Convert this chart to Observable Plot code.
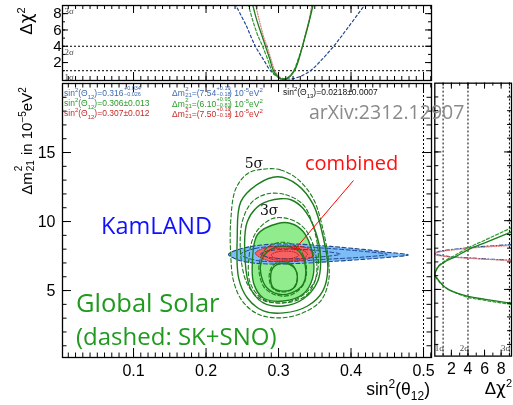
<!DOCTYPE html>
<html><head><meta charset="utf-8">
<script src="https://cdn.jsdelivr.net/npm/d3@7"></script>
<script src="https://cdn.jsdelivr.net/npm/@observablehq/plot@0.6"></script>
<style>
body{margin:0;background:#fff}
#wrap{position:relative;width:513px;height:405px;overflow:hidden;background:#fff;font-family:"Liberation Sans",Arial,sans-serif}
#wrap svg{position:absolute;left:0;top:0}
.t{position:absolute;white-space:nowrap;line-height:1}
.info{font-size:8.5px}
.info sup,.info sub{font-size:6px;line-height:0}
.pm{display:inline-block;position:relative;height:8px;vertical-align:baseline}
.pm i{position:absolute;left:0.5px;font-style:normal;font-size:5.5px;line-height:1}
.pm .u{top:-2px}.pm .d{top:3.5px}
.stk{display:inline-block;position:relative;height:15px;vertical-align:baseline}
.stk i{position:absolute;left:1px;font-style:normal;font-size:10px;line-height:1}
.stk .u{top:-3px}.stk .d{top:9px}
.big{font-family:"Open Sans",sans-serif;line-height:0.8}
.rot{transform:translate(-50%,-50%) rotate(-90deg)}
.chi{font-family:"DejaVu Sans",sans-serif}
</style></head><body><div id="wrap"></div>
<script>
// ---------- data ----------
const xTickLabels = [0.1, 0.2, 0.3, 0.4, 0.5];
const yTickLabels = [5, 10, 15];
const chiTickLabels = [2, 4, 6, 8];
const sigmaNames = ["1σ", "2σ", "3σ"];
const sigmaChi = [1, 4, 9];

// Global Solar 2D contours (sin^2 theta12, dm2_21 in 1e-5 eV^2)
const gs1 = [[0.307,6.98],[0.321,6.69],[0.326,5.90],[0.321,5.18],[0.307,4.96],[0.293,5.18],[0.289,5.90],[0.293,6.69]];
const gs2 = [[0.307,8.20],[0.328,7.84],[0.337,6.76],[0.334,5.47],[0.317,4.82],[0.299,4.75],[0.282,5.32],[0.275,6.76],[0.285,7.84]];
const gs3 = [[0.299,9.86],[0.317,9.86],[0.334,9.28],[0.347,7.63],[0.347,5.90],[0.334,4.75],[0.307,4.24],[0.279,4.46],[0.266,5.47],[0.264,7.12],[0.271,9.06]];
const gs4 = [[0.303,11.65],[0.317,11.58],[0.334,10.94],[0.351,9.28],[0.358,7.34],[0.354,5.68],[0.334,4.39],[0.307,3.88],[0.279,4.10],[0.261,5.18],[0.254,7.12],[0.257,10.00],[0.275,11.22]];
const gs5 = [[0.299,13.24],[0.326,12.66],[0.348,11.22],[0.362,8.78],[0.368,6.62],[0.361,4.96],[0.340,3.88],[0.307,3.38],[0.279,3.53],[0.257,4.46],[0.245,5.90],[0.243,8.78],[0.248,11.44],[0.272,12.73]];
// SK+SNO (dashed)
const sk1 = [[0.306,7.10],[0.320,6.80],[0.326,6.00],[0.320,5.15],[0.306,4.90],[0.292,5.15],[0.287,6.00],[0.292,6.80]];
const sk2 = [[0.305,8.50],[0.327,8.10],[0.338,6.90],[0.335,5.50],[0.318,4.70],[0.298,4.65],[0.280,5.25],[0.273,6.80],[0.283,8.05]];
const sk3 = [[0.292,10.22],[0.317,10.14],[0.337,9.42],[0.351,7.70],[0.351,5.83],[0.337,4.60],[0.307,4.10],[0.278,4.39],[0.261,5.54],[0.259,7.27],[0.268,9.14]];
const sk4 = [[0.285,12.01],[0.310,11.94],[0.334,11.22],[0.348,9.64],[0.355,7.48],[0.350,5.68],[0.330,4.53],[0.303,4.10],[0.275,4.39],[0.257,5.47],[0.248,7.48],[0.250,10.00],[0.264,11.44]];
const sk5 = [[0.282,13.81],[0.303,13.74],[0.326,13.09],[0.348,11.65],[0.362,9.28],[0.369,7.12],[0.369,5.68],[0.358,4.24],[0.330,3.31],[0.299,3.02],[0.271,3.31],[0.250,4.24],[0.238,5.68],[0.234,7.63],[0.234,10.00],[0.241,12.37],[0.258,13.50]];
// KamLAND
const kam1 = [[0.275,7.64],[0.290,7.90],[0.320,8.00],[0.355,7.88],[0.385,7.64],[0.355,7.42],[0.320,7.30],[0.290,7.38]];
const kam2 = [[0.248,7.62],[0.268,8.05],[0.305,8.20],[0.360,8.08],[0.415,7.85],[0.450,7.62],[0.415,7.42],[0.360,7.25],[0.305,7.08],[0.268,7.20]];
const kam3 = [[0.231,7.62],[0.245,7.98],[0.265,8.22],[0.290,8.36],[0.326,8.36],[0.372,8.20],[0.417,7.98],[0.450,7.78],[0.479,7.58],[0.450,7.40],[0.417,7.26],[0.372,7.10],[0.326,6.96],[0.290,6.92],[0.265,7.00],[0.245,7.20]];
// combined
const comb1 = [[0.290,7.58],[0.298,7.80],[0.310,7.86],[0.322,7.78],[0.328,7.55],[0.320,7.35],[0.305,7.30],[0.293,7.40]];
const comb2 = [[0.278,7.65],[0.290,7.98],[0.310,8.06],[0.332,7.95],[0.340,7.62],[0.332,7.30],[0.310,7.20],[0.290,7.28]];
const comb3 = [[0.268,7.70],[0.285,8.15],[0.312,8.24],[0.340,8.08],[0.349,7.63],[0.340,7.27],[0.312,7.12],[0.285,7.17]];

// 1D profiles, top: (sin^2 theta12, dchi2)
const kamChiS = [[0.240,9.2],[0.255,6.6],[0.268,4.0],[0.279,2.4],[0.289,1.0],[0.300,0.2],[0.310,0.02],[0.318,0.0],[0.330,0.3],[0.344,1.0],[0.358,2.2],[0.376,4.0],[0.395,6.2],[0.420,9.2]];
const gsChiS = [[0.264,9.2],[0.270,7.2],[0.276,5.6],[0.282,4.0],[0.288,2.4],[0.293,1.0],[0.299,0.3],[0.303,0.0],[0.311,0.0],[0.317,0.4],[0.323,1.2],[0.328,2.4],[0.333,4.0],[0.338,5.6],[0.343,7.3],[0.348,9.2]];
const skChiS = [[0.258,9.2],[0.265,7.0],[0.272,5.2],[0.278,4.0],[0.285,2.4],[0.291,1.0],[0.298,0.3],[0.303,0.0],[0.310,0.05],[0.316,0.4],[0.322,1.2],[0.327,2.4],[0.333,4.0],[0.338,5.7],[0.343,7.4],[0.347,9.2]];
const combChiS = [[0.268,9.2],[0.274,7.0],[0.280,5.0],[0.284,4.0],[0.290,2.3],[0.295,1.0],[0.301,0.3],[0.305,0.0],[0.310,0.0],[0.316,0.35],[0.322,1.1],[0.328,2.4],[0.333,4.0],[0.338,5.8],[0.343,7.6],[0.346,9.2]];
// 1D profiles, right: (dchi2, dm2_21)
const gsChiM = [[9.3,9.2],[6.1,8.41],[4.05,7.9],[2.5,7.39],[1.28,7.03],[0.44,6.67],[0.1,6.3],[0.0,6.1],[0.2,5.87],[0.68,5.5],[1.0,5.29],[1.6,5.0],[4.05,4.49],[6.1,4.28],[9.3,3.98]];
const skChiM = [[9.3,9.5],[6.1,8.6],[4.05,8.04],[2.5,7.5],[1.28,7.1],[0.44,6.7],[0.1,6.3],[0.0,6.05],[0.2,5.8],[0.68,5.45],[1.2,5.2],[2.0,4.9],[4.05,4.42],[6.1,4.2],[9.3,3.9]];
const kamChiM = [[9.3,8.26],[6,8.13],[4,8.03],[2,7.9],[1,7.82],[0.3,7.72],[0,7.62],[0.3,7.52],[1,7.45],[2,7.38],[4,7.3],[6,7.22],[9.3,7.12]];
const combChiM = [[9.3,8.2],[6,8.08],[4,7.99],[2,7.86],[1,7.78],[0.3,7.68],[0,7.58],[0.3,7.48],[1,7.42],[2,7.35],[4,7.27],[6,7.2],[9.3,7.1]];

// annotations (data coords)
const arrowFrom = [0.403, 12.95];
const arrowTo = [0.322, 7.95];
const sigmaContourLabels = [{t:"5σ", x:0.266, y:14.2}, {t:"3σ", x:0.287, y:10.8}];

// ---------- styles ----------
const GREEN_FILL = "#90ec8c", GREEN = "#1c7d1c", BLUE_FILL = "#7dbdf7", BLUE = "#21488f", RED_FILL = "#f86262", RED = "#b51d1d";
const xDomain = [0.002, 0.511], yDomain = [0.15, 20], chiTop = [-0.2, 9], chiRight = [0, 9.25];

const wrap = document.getElementById("wrap");
const xy = {x: d => d[0], y: d => d[1]};
const closedLine = (arr, o) => Plot.line(arr, {...xy, curve: "catmull-rom-closed", clip: true, ...o});
const openLine = (arr, o) => Plot.line(arr, {...xy, curve: "catmull-rom", clip: true, ...o});
function ticksX(vals, len, innerH) {
  return [Plot.tickX(vals, {x: d => d, insetTop: innerH - len, stroke: "black"}),
          Plot.tickX(vals, {x: d => d, insetBottom: innerH - len, stroke: "black"})];
}
function ticksY(vals, len, innerW) {
  return [Plot.tickY(vals, {y: d => d, insetRight: innerW - len, stroke: "black"}),
          Plot.tickY(vals, {y: d => d, insetLeft: innerW - len, stroke: "black"})];
}
const minorX = d3.range(1, 52).map(i => i / 100);
const minorY = d3.range(1, 20);
const minorChi = d3.range(1, 10);
const styleSvg = {background: "transparent", overflow: "visible", fontFamily: "'Liberation Sans', Arial, sans-serif"};

// ---------- top panel ----------
const tH = 405 - 5 - 325, tW = 513 - 62 - 82;
const topPanel = Plot.plot({
  width: 513, height: 405, marginLeft: 62, marginRight: 82, marginTop: 5, marginBottom: 325,
  style: styleSvg,
  x: {domain: xDomain, axis: null}, y: {domain: chiTop},
  marks: [
    Plot.ruleY(sigmaChi, {y: d => d, strokeDasharray: "2,2", stroke: "black", strokeWidth: 1}),
    Plot.text(sigmaNames, {y: (d, i) => sigmaChi[i], text: d => d, frameAnchor: "left", dx: 2, dy: 6, textAnchor: "start", fontSize: 9, fill: "#444", fontFamily: "Liberation Serif"}),
    openLine(kamChiS, {stroke: BLUE, strokeWidth: 1.2, strokeDasharray: "2.5,2.5"}),
    openLine(combChiS, {stroke: "#e27c7c", strokeWidth: 1.2, strokeDasharray: "1,1.5"}),
    openLine(skChiS, {stroke: "#2f9a2f", strokeWidth: 1.2, strokeDasharray: "3,2"}),
    openLine(gsChiS, {stroke: GREEN, strokeWidth: 1.3}),
    ...ticksX(minorX, 4, tH), ...ticksX(xTickLabels, 8, tH),
    ...ticksY(minorChi, 3, tW), ...ticksY(chiTickLabels, 6, tW),
    Plot.frame({stroke: "black", strokeWidth: 1.3}),
    Plot.axisY(chiTickLabels, {tickSize: 0, tickPadding: 1, fontSize: 15, label: null})
  ]
});
wrap.appendChild(topPanel);

// ---------- main panel ----------
const mH = 405 - 83 - 48, mW = 513 - 62 - 82;
const mainPanel = Plot.plot({
  width: 513, height: 405, marginLeft: 62, marginRight: 82, marginTop: 83, marginBottom: 48,
  style: styleSvg,
  x: {domain: xDomain}, y: {domain: yDomain},
  marks: [
    closedLine(gs3, {fill: GREEN_FILL, stroke: "none"}),
    closedLine(kam3, {fill: BLUE_FILL, stroke: "none", mixBlendMode: "multiply"}),
    closedLine(comb3, {fill: RED_FILL, stroke: "none"}),
    closedLine(kam3, {stroke: BLUE, strokeWidth: 1.1, strokeDasharray: "4,2.5"}),
    closedLine(kam2, {stroke: BLUE, strokeWidth: 1, strokeDasharray: "4,2.5"}),
    closedLine(kam1, {stroke: BLUE, strokeWidth: 1, strokeDasharray: "4,2.5"}),
    ...[sk1, sk2, sk3, sk4, sk5].map(c => closedLine(c, {stroke: GREEN, strokeWidth: 1.1, strokeDasharray: "4,2.5"})),
    ...[gs1, gs2, gs3, gs4, gs5].map(c => closedLine(c, {stroke: GREEN, strokeWidth: 1.4})),
    closedLine(comb3, {stroke: RED, strokeWidth: 1, strokeDasharray: "1,1.5"}),
    closedLine(comb2, {stroke: RED, strokeWidth: 1, strokeDasharray: "1,1.5"}),
    closedLine(comb1, {stroke: RED, strokeWidth: 1, strokeDasharray: "1,1.5"}),
    Plot.ruleX([0.5], {x: d => d, strokeDasharray: "2,2", stroke: "black"}),
    Plot.arrow([{a: arrowFrom, b: arrowTo}], {x1: d => d.a[0], y1: d => d.a[1], x2: d => d.b[0], y2: d => d.b[1], stroke: "#ff0000", strokeWidth: 1, headLength: 7}),
    Plot.text(sigmaContourLabels, {x: "x", y: "y", text: "t", fontSize: 14, fontFamily: "DejaVu Serif", fill: "#111"}),
    ...ticksX(minorX, 4.5, mH), ...ticksX(xTickLabels, 9, mH),
    ...ticksY(minorY, 4.5, mW), ...ticksY([5, 10, 15], 9, mW),
    Plot.frame({stroke: "black", strokeWidth: 1.3}),
    Plot.axisX(xTickLabels, {tickSize: 0, tickPadding: 7, fontSize: 16, label: null, tickFormat: d => d.toFixed(1)}),
    Plot.axisY(yTickLabels, {tickSize: 0, tickPadding: 7, fontSize: 16, label: null})
  ]
});
wrap.appendChild(mainPanel);

// ---------- right panel ----------
const rW = 515 - 436 - 2;
const rightPanel = Plot.plot({
  width: 515, height: 405, marginLeft: 436, marginRight: 2, marginTop: 83, marginBottom: 48,
  style: styleSvg,
  x: {domain: chiRight}, y: {domain: yDomain, axis: null},
  marks: [
    Plot.ruleX(sigmaChi, {x: d => d, strokeDasharray: "2,2", stroke: "black", strokeWidth: 1}),
    Plot.text(sigmaNames, {x: (d, i) => sigmaChi[i], text: d => d, frameAnchor: "bottom", dx: 1, dy: -5, textAnchor: "end", fontSize: 9, fill: "#444", fontFamily: "Liberation Serif"}),
    openLine(kamChiM, {stroke: BLUE, strokeWidth: 1.2, strokeDasharray: "4,2,1,2"}),
    openLine(combChiM, {stroke: "#e27c7c", strokeWidth: 1.2, strokeDasharray: "1,1.5"}),
    openLine(skChiM, {stroke: "#2f9a2f", strokeWidth: 1.2, strokeDasharray: "3,2"}),
    openLine(gsChiM, {stroke: GREEN, strokeWidth: 1.3}),
    ...ticksX(minorChi, 3, mH), ...ticksX(chiTickLabels, 6, mH),
    ...ticksY(minorY, 4, rW), ...ticksY([5, 10, 15], 7, rW),
    Plot.frame({stroke: "black", strokeWidth: 1.3}),
    Plot.axisX(chiTickLabels, {tickSize: 0, tickPadding: 7, fontSize: 16, label: null})
  ]
});
wrap.appendChild(rightPanel);

// ---------- text overlay ----------
const html = `
<div class="t rot" style="left:26px;top:21px;font-size:17px">Δ<span class="chi">χ</span><sup style="font-size:11px;line-height:0">2</sup></div>
<div class="t rot" style="left:25px;top:141px;font-size:15px">Δm<span class="stk" style="width:13px"><i class="u">2</i><i class="d">21</i></span> in 10<sup style="font-size:10px;line-height:0">−5</sup>eV<sup style="font-size:10px;line-height:0">2</sup></div>
<div class="t" style="right:83px;top:382px;font-size:17.5px;line-height:0.8">sin<sup style="font-size:12px;line-height:0">2</sup>(θ<sub style="font-size:12px;line-height:0">12</sub>)</div>
<div class="t" style="right:1px;top:382px;font-size:17px;line-height:0.8">Δ<span class="chi">χ</span><sup style="font-size:11px;line-height:0">2</sup></div>

<div class="t info" style="left:64px;top:88px;color:#3b6ab0">sin<sup>2</sup>(Θ<sub>12</sub>)=0.316<span class="pm" style="width:16px"><i class="u">+0.034</i><i class="d">−0.026</i></span></div>
<div class="t info" style="left:172px;top:88px;color:#3b6ab0">Δm<span class="pm" style="width:7px"><i class="u" style="font-size:6px">2</i><i class="d" style="font-size:6px">21</i></span>=(7.54<span class="pm" style="width:13px"><i class="u">+0.19</i><i class="d">−0.18</i></span>) 10<sup>-5</sup>eV<sup>2</sup></div>
<div class="t info" style="left:283px;top:88px;color:#111">sin<sup>2</sup>(Θ<sub>13</sub>)=0.0218±0.0007</div>

<div class="t info" style="left:64px;top:99px;color:#2a9a2a">sin<sup>2</sup>(Θ<sub>12</sub>)=0.306±0.013</div>
<div class="t info" style="left:172px;top:99px;color:#2a9a2a">Δm<span class="pm" style="width:7px"><i class="u" style="font-size:6px">2</i><i class="d" style="font-size:6px">21</i></span>=(6.10<span class="pm" style="width:13px"><i class="u">+0.95</i><i class="d">−0.81</i></span>) 10<sup>-5</sup>eV<sup>2</sup></div>

<div class="t info" style="left:64px;top:109px;color:#c62a2a">sin<sup>2</sup>(Θ<sub>12</sub>)=0.307±0.012</div>
<div class="t info" style="left:172px;top:109px;color:#c62a2a">Δm<span class="pm" style="width:7px"><i class="u" style="font-size:6px">2</i><i class="d" style="font-size:6px">21</i></span>=(7.50<span class="pm" style="width:13px"><i class="u">+0.19</i><i class="d">−0.18</i></span>) 10<sup>-5</sup>eV<sup>2</sup></div>

<div class="t big" style="left:309px;top:104px;font-size:19.5px;color:#8a8a8a">arXiv:2312.12907</div>
<div class="t big" style="left:305px;top:155px;font-size:20px;color:#ff1010">combined</div>
<div class="t big" style="left:101px;top:216px;font-size:23.5px;color:#1010ff">KamLAND</div>
<div class="t big" style="left:76px;top:292px;font-size:25.5px;color:#1f9a1f">Global Solar</div>
<div class="t big" style="left:76px;top:326px;font-size:24px;color:#1f9a1f">(dashed: SK+SNO)</div>
`;
const ov = document.createElement("div");
ov.innerHTML = html;
while (ov.firstChild) wrap.appendChild(ov.firstChild);
</script></body></html>
